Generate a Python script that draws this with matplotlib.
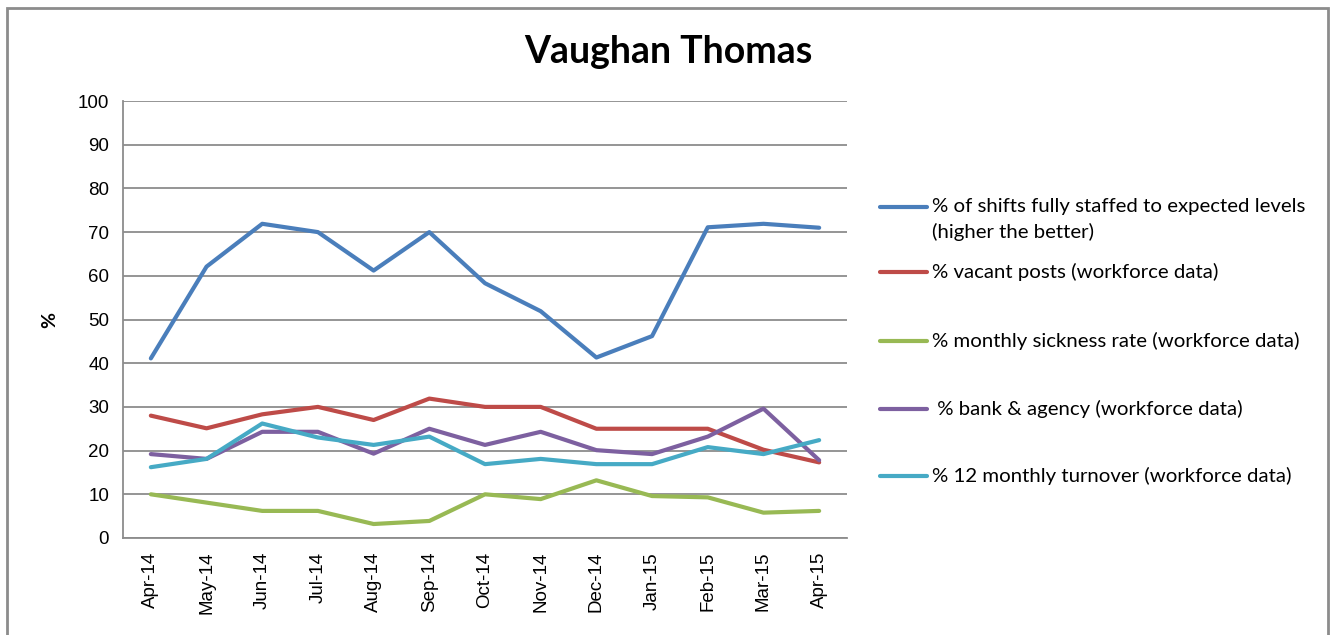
import matplotlib
matplotlib.use('Agg')
from matplotlib import pyplot as plt
from matplotlib.patches import Rectangle
from matplotlib.lines import Line2D

months = ['Apr-14', 'May-14', 'Jun-14', 'Jul-14', 'Aug-14', 'Sep-14', 'Oct-14',
          'Nov-14', 'Dec-14', 'Jan-15', 'Feb-15', 'Mar-15', 'Apr-15']

shifts_staffed = [41.1, 62.1, 71.9, 70.0, 61.2, 70.0, 58.3, 51.9, 41.3, 46.2, 71.1, 71.9, 71.0]
vacant_posts = [28.0, 25.1, 28.3, 30.0, 27.0, 31.9, 30.0, 30.0, 25.0, 25.0, 25.0, 20.2, 17.3]
sickness_rate = [10.0, 8.1, 6.2, 6.2, 3.2, 3.9, 10.0, 8.9, 13.2, 9.6, 9.3, 5.8, 6.2]
bank_agency = [19.2, 18.1, 24.3, 24.3, 19.3, 25.0, 21.3, 24.3, 20.1, 19.2, 23.2, 29.6, 17.8]
turnover = [16.2, 18.1, 26.2, 23.0, 21.3, 23.2, 16.9, 18.1, 16.9, 16.9, 20.8, 19.2, 22.4]

labels = ['% of shifts fully staffed to expected levels\n(higher the better)',
          '% vacant posts (workforce data)',
          '% monthly sickness rate (workforce data)',
          ' % bank & agency (workforce data)',
          '% 12 monthly turnover (workforce data)']
colors = ['#4A7EBB', '#BE4B48', '#98B954', '#7D60A0', '#46AAC5']

W, H = 1334, 635
fig = plt.figure(figsize=(W / 100, H / 100), dpi=100)
ax = fig.add_axes([123 / W, 1 - 538 / H, 724 / W, 437 / H])

# outer chart frame
fig.patches.append(Rectangle((7 / W, -0.1), 1321 / W, 1.1 - 8 / H,
                             transform=fig.transFigure, fill=False,
                             edgecolor='#8c8c8c', linewidth=2))

x = range(len(months))
series = [shifts_staffed, vacant_posts, sickness_rate, bank_agency, turnover]
for s, lab, c in zip(series, labels, colors):
    ax.plot(x, s, color=c, linewidth=3.0, label=lab, solid_capstyle='round')

ax.set_xlim(-0.5, len(months) - 0.5)
ax.set_ylim(0, 100)
ax.set_yticks(range(0, 101, 10))
ax.set_xticks(list(x))
ax.set_xticklabels(months, rotation=90, fontsize=13.5, family='Liberation Sans')
for t in ax.get_yticklabels():
    t.set_family('Liberation Sans')
    t.set_fontsize(13.5)
ax.tick_params(length=0, pad=10)
ax.tick_params(axis='x', pad=10)
ax.yaxis.grid(True, color='#8c8c8c', linewidth=1.3)
ax.set_axisbelow(True)
for side in ['top', 'right']:
    ax.spines[side].set_visible(False)
for side in ['left', 'bottom']:
    ax.spines[side].set_color('#8c8c8c')
    ax.spines[side].set_linewidth(1.3)

ax.set_ylabel('%', fontsize=14, fontweight='bold', family='Lato', labelpad=14)
fig.text(668 / W, 1 - 52 / H, 'Vaughan Thomas', ha='center', va='center',
         fontsize=27, fontweight='bold', family='Lato')

# legend drawn by hand so the wrapped entry keeps its key on the first line
legend_y = [207, 272, 341, 409, 476]
for lab, c, yy in zip(labels, colors, legend_y):
    fy = 1 - yy / H
    fig.add_artist(Line2D([880 / W, 927 / W], [fy, fy], transform=fig.transFigure,
                          color=c, linewidth=3.0, solid_capstyle='round'))
    lines = lab.split('\n')
    for k, part in enumerate(lines):
        fig.text(932 / W, 1 - (yy + 25 * k) / H, part, ha='left', va='center',
                 fontsize=14.7, family='Lato')

fig.savefig('out.png', dpi=100)
